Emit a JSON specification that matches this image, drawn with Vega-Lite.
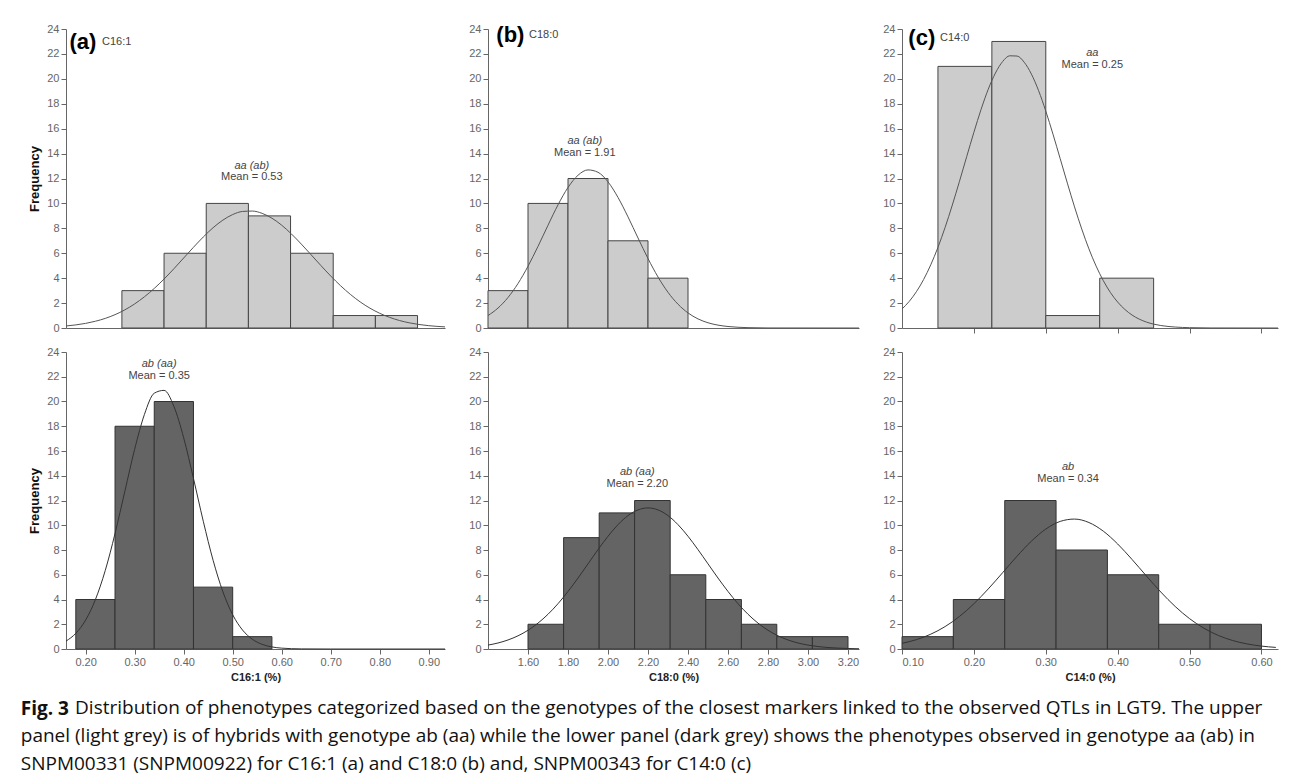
{
  "$schema": "https://vega.github.io/schema/vega-lite/v6.json",
  "padding": {"left": 20, "top": 23, "right": 5, "bottom": 2},
  "background": "white",
  "title": {
    "text": "Fig. 3",
    "subtitle": [
      "\u200b\u00a0\u00a0\u00a0\u00a0\u00a0\u00a0\u00a0\u00a0\u00a0\u00a0\u00a0Distribution of phenotypes categorized based on the genotypes of the closest markers linked to the observed QTLs in LGT9. The upper",
      "panel (light grey) is of hybrids with genotype ab (aa) while the lower panel (dark grey) shows the phenotypes observed in genotype aa (ab) in",
      "SNPM00331 (SNPM00922) for C16:1 (a) and C18:0 (b) and, SNPM00343 for C14:0 (c)"
    ],
    "orient": "bottom",
    "anchor": "start",
    "font": "Open Sans",
    "fontSize": 19,
    "fontWeight": "bold",
    "color": "#111",
    "subtitleFont": "Open Sans",
    "subtitleFontSize": 19,
    "subtitleFontWeight": "normal",
    "subtitleColor": "#111",
    "subtitleLineHeight": 28,
    "subtitlePadding": -20,
    "offset": 18,
    "dx": -8
  },
  "datasets": {
    "ta_bars": [
      {"lo": 0.274, "hi": 0.360, "n": 3}, {"lo": 0.360, "hi": 0.446, "n": 6}, {"lo": 0.446, "hi": 0.532, "n": 10},
      {"lo": 0.532, "hi": 0.618, "n": 9}, {"lo": 0.618, "hi": 0.705, "n": 6}, {"lo": 0.705, "hi": 0.791, "n": 1},
      {"lo": 0.791, "hi": 0.877, "n": 1}
    ],
    "ta_curve": [
      {"x": 0.16, "f": 0.163}, {"x": 0.18, "f": 0.249}, {"x": 0.20, "f": 0.371}, {"x": 0.22, "f": 0.542},
      {"x": 0.24, "f": 0.770}, {"x": 0.26, "f": 1.071}, {"x": 0.28, "f": 1.456}, {"x": 0.30, "f": 1.933},
      {"x": 0.32, "f": 2.506}, {"x": 0.34, "f": 3.176}, {"x": 0.36, "f": 3.930}, {"x": 0.38, "f": 4.753},
      {"x": 0.40, "f": 5.617}, {"x": 0.42, "f": 6.480}, {"x": 0.44, "f": 7.306}, {"x": 0.46, "f": 8.050},
      {"x": 0.48, "f": 8.661}, {"x": 0.50, "f": 9.107}, {"x": 0.52, "f": 9.354}, {"x": 0.54, "f": 9.387},
      {"x": 0.56, "f": 9.203}, {"x": 0.58, "f": 8.814}, {"x": 0.60, "f": 8.249}, {"x": 0.62, "f": 7.540},
      {"x": 0.64, "f": 6.733}, {"x": 0.66, "f": 5.875}, {"x": 0.68, "f": 5.009}, {"x": 0.70, "f": 4.171},
      {"x": 0.72, "f": 3.393}, {"x": 0.74, "f": 2.698}, {"x": 0.76, "f": 2.095}, {"x": 0.78, "f": 1.590},
      {"x": 0.80, "f": 1.178}, {"x": 0.82, "f": 0.853}, {"x": 0.84, "f": 0.603}, {"x": 0.86, "f": 0.417},
      {"x": 0.88, "f": 0.281}, {"x": 0.90, "f": 0.186}, {"x": 0.933, "f": 0.09}
    ],
    "ba_bars": [
      {"lo": 0.18, "hi": 0.26, "n": 4}, {"lo": 0.26, "hi": 0.34, "n": 18}, {"lo": 0.34, "hi": 0.42, "n": 20},
      {"lo": 0.42, "hi": 0.50, "n": 5}, {"lo": 0.50, "hi": 0.58, "n": 1}
    ],
    "ba_curve": [
      {"x": 0.16, "f": 0.637}, {"x": 0.18, "f": 1.266}, {"x": 0.20, "f": 2.335}, {"x": 0.22, "f": 3.993},
      {"x": 0.24, "f": 6.338}, {"x": 0.26, "f": 9.328}, {"x": 0.28, "f": 12.74}, {"x": 0.30, "f": 16.14},
      {"x": 0.32, "f": 18.96}, {"x": 0.34, "f": 20.67}, {"x": 0.36, "f": 20.90}, {"x": 0.38, "f": 19.61},
      {"x": 0.40, "f": 17.07}, {"x": 0.42, "f": 13.78}, {"x": 0.44, "f": 10.32}, {"x": 0.46, "f": 7.172},
      {"x": 0.48, "f": 4.624}, {"x": 0.50, "f": 2.766}, {"x": 0.52, "f": 1.534}, {"x": 0.54, "f": 0.790},
      {"x": 0.56, "f": 0.376}, {"x": 0.58, "f": 0.167}, {"x": 0.60, "f": 0.069}, {"x": 0.64, "f": 0.009},
      {"x": 0.70, "f": 0.0}, {"x": 0.933, "f": 0.0}
    ],
    "tb_bars": [
      {"lo": 1.40, "hi": 1.60, "n": 3}, {"lo": 1.60, "hi": 1.80, "n": 10}, {"lo": 1.80, "hi": 2.00, "n": 12},
      {"lo": 2.00, "hi": 2.20, "n": 7}, {"lo": 2.20, "hi": 2.40, "n": 4}
    ],
    "tb_curve": [
      {"x": 1.40, "f": 0.996}, {"x": 1.45, "f": 1.601}, {"x": 1.50, "f": 2.449}, {"x": 1.55, "f": 3.570},
      {"x": 1.60, "f": 4.957}, {"x": 1.65, "f": 6.553}, {"x": 1.70, "f": 8.247}, {"x": 1.75, "f": 9.884},
      {"x": 1.80, "f": 11.28}, {"x": 1.85, "f": 12.26}, {"x": 1.90, "f": 12.69}, {"x": 1.95, "f": 12.50},
      {"x": 2.00, "f": 11.73}, {"x": 2.05, "f": 10.48}, {"x": 2.10, "f": 8.919}, {"x": 2.15, "f": 7.226},
      {"x": 2.20, "f": 5.575}, {"x": 2.25, "f": 4.096}, {"x": 2.30, "f": 2.865}, {"x": 2.35, "f": 1.909},
      {"x": 2.40, "f": 1.211}, {"x": 2.45, "f": 0.731}, {"x": 2.50, "f": 0.420}, {"x": 2.55, "f": 0.230},
      {"x": 2.60, "f": 0.120}, {"x": 2.65, "f": 0.060}, {"x": 2.70, "f": 0.028}, {"x": 2.80, "f": 0.004},
      {"x": 3.255, "f": 0.0}
    ],
    "bb_bars": [
      {"lo": 1.600, "hi": 1.778, "n": 2}, {"lo": 1.778, "hi": 1.956, "n": 9}, {"lo": 1.956, "hi": 2.133, "n": 11},
      {"lo": 2.133, "hi": 2.311, "n": 12}, {"lo": 2.311, "hi": 2.489, "n": 6}, {"lo": 2.489, "hi": 2.667, "n": 4},
      {"lo": 2.667, "hi": 2.844, "n": 2}, {"lo": 2.844, "hi": 3.022, "n": 1}, {"lo": 3.022, "hi": 3.200, "n": 1}
    ],
    "bb_curve": [
      {"x": 1.40, "f": 0.315}, {"x": 1.45, "f": 0.486}, {"x": 1.50, "f": 0.730}, {"x": 1.55, "f": 1.066},
      {"x": 1.60, "f": 1.514}, {"x": 1.65, "f": 2.091}, {"x": 1.70, "f": 2.807}, {"x": 1.75, "f": 3.662},
      {"x": 1.80, "f": 4.648}, {"x": 1.85, "f": 5.734}, {"x": 1.90, "f": 6.881}, {"x": 1.95, "f": 8.030},
      {"x": 2.00, "f": 9.110}, {"x": 2.05, "f": 10.05}, {"x": 2.10, "f": 10.78}, {"x": 2.15, "f": 11.24},
      {"x": 2.20, "f": 11.40}, {"x": 2.25, "f": 11.24}, {"x": 2.30, "f": 10.78}, {"x": 2.35, "f": 10.05},
      {"x": 2.40, "f": 9.110}, {"x": 2.45, "f": 8.030}, {"x": 2.50, "f": 6.881}, {"x": 2.55, "f": 5.734},
      {"x": 2.60, "f": 4.648}, {"x": 2.65, "f": 3.662}, {"x": 2.70, "f": 2.807}, {"x": 2.75, "f": 2.091},
      {"x": 2.80, "f": 1.514}, {"x": 2.85, "f": 1.066}, {"x": 2.90, "f": 0.730}, {"x": 2.95, "f": 0.486},
      {"x": 3.00, "f": 0.315}, {"x": 3.05, "f": 0.198}, {"x": 3.10, "f": 0.121}, {"x": 3.15, "f": 0.072},
      {"x": 3.20, "f": 0.042}, {"x": 3.255, "f": 0.021}
    ],
    "tc_bars": [
      {"lo": 0.150, "hi": 0.225, "n": 21}, {"lo": 0.225, "hi": 0.300, "n": 23},
      {"lo": 0.300, "hi": 0.375, "n": 1}, {"lo": 0.375, "hi": 0.450, "n": 4}
    ],
    "tc_curve": [
      {"x": 0.10, "f": 1.529}, {"x": 0.11, "f": 2.133}, {"x": 0.12, "f": 2.911}, {"x": 0.13, "f": 3.885},
      {"x": 0.14, "f": 5.072}, {"x": 0.15, "f": 6.471}, {"x": 0.16, "f": 8.081}, {"x": 0.17, "f": 9.87},
      {"x": 0.18, "f": 11.78}, {"x": 0.19, "f": 13.76}, {"x": 0.20, "f": 15.71}, {"x": 0.21, "f": 17.55},
      {"x": 0.22, "f": 19.17}, {"x": 0.23, "f": 20.47}, {"x": 0.24, "f": 21.39}, {"x": 0.25, "f": 21.85},
      {"x": 0.26, "f": 21.83}, {"x": 0.27, "f": 21.33}, {"x": 0.28, "f": 20.38}, {"x": 0.29, "f": 19.05},
      {"x": 0.30, "f": 17.41}, {"x": 0.31, "f": 15.56}, {"x": 0.32, "f": 13.60}, {"x": 0.33, "f": 11.63},
      {"x": 0.34, "f": 9.72}, {"x": 0.35, "f": 7.95}, {"x": 0.36, "f": 6.35}, {"x": 0.37, "f": 4.97},
      {"x": 0.38, "f": 3.80}, {"x": 0.39, "f": 2.84}, {"x": 0.40, "f": 2.08}, {"x": 0.41, "f": 1.49},
      {"x": 0.42, "f": 1.04}, {"x": 0.43, "f": 0.712}, {"x": 0.44, "f": 0.476}, {"x": 0.45, "f": 0.311},
      {"x": 0.46, "f": 0.199}, {"x": 0.48, "f": 0.076}, {"x": 0.50, "f": 0.027}, {"x": 0.53, "f": 0.005},
      {"x": 0.623, "f": 0.0}
    ],
    "bc_bars": [
      {"lo": 0.1000, "hi": 0.1714, "n": 1}, {"lo": 0.1714, "hi": 0.2429, "n": 4}, {"lo": 0.2429, "hi": 0.3143, "n": 12},
      {"lo": 0.3143, "hi": 0.3857, "n": 8}, {"lo": 0.3857, "hi": 0.4571, "n": 6}, {"lo": 0.4571, "hi": 0.5286, "n": 2},
      {"lo": 0.5286, "hi": 0.6000, "n": 2}
    ],
    "bc_curve": [
      {"x": 0.10, "f": 0.456}, {"x": 0.12, "f": 0.755}, {"x": 0.14, "f": 1.196}, {"x": 0.16, "f": 1.814},
      {"x": 0.18, "f": 2.633}, {"x": 0.20, "f": 3.656}, {"x": 0.22, "f": 4.855}, {"x": 0.24, "f": 6.168},
      {"x": 0.26, "f": 7.495}, {"x": 0.28, "f": 8.715}, {"x": 0.30, "f": 9.692}, {"x": 0.32, "f": 10.31},
      {"x": 0.34, "f": 10.50}, {"x": 0.36, "f": 10.22}, {"x": 0.38, "f": 9.522}, {"x": 0.40, "f": 8.486},
      {"x": 0.42, "f": 7.234}, {"x": 0.44, "f": 5.900}, {"x": 0.46, "f": 4.603}, {"x": 0.48, "f": 3.436},
      {"x": 0.50, "f": 2.453}, {"x": 0.52, "f": 1.676}, {"x": 0.54, "f": 1.095}, {"x": 0.56, "f": 0.685},
      {"x": 0.58, "f": 0.410}, {"x": 0.60, "f": 0.234}, {"x": 0.62, "f": 0.128}
    ]
  },
  "spacing": 12,
  "vconcat": [
    {
      "spacing": 21,
      "hconcat": [
        {
          "width": 379, "height": 299,
          "encoding": {
            "x": {"type": "quantitative", "scale": {"domain": [0.16, 0.933], "nice": false, "zero": false}, "axis": {"labels": false, "ticks": false, "title": null}},
            "y": {"type": "quantitative", "scale": {"domain": [0, 24], "nice": false}, "axis": {"values": [0, 2, 4, 6, 8, 10, 12, 14, 16, 18, 20, 22, 24], "labelOverlap": false, "title": "Frequency", "titleFontSize": 13, "titleColor": "#111", "titlePadding": 5}}
          },
          "layer": [
            {
              "data": {"name": "ta_bars"},
              "mark": {"type": "rect", "fill": "#cccccc", "stroke": "#454545", "strokeWidth": 1},
              "encoding": {"x": {"field": "lo"}, "x2": {"field": "hi"}, "y": {"field": "n"}, "y2": {"datum": 0}}
            },
            {
              "data": {"name": "ta_curve"},
              "mark": {"type": "line", "color": "#555555", "strokeWidth": 1, "interpolate": "monotone"},
              "encoding": {"x": {"field": "x"}, "y": {"field": "f"}}
            },
            {
              "data": {"values": [{"t": "(a)"}]},
              "mark": {"type": "text", "fontSize": 22, "fontWeight": "bold", "align": "left", "baseline": "middle", "color": "#000"},
              "encoding": {"x": {"datum": 0.167}, "y": {"datum": 22.95}, "text": {"field": "t"}}
            },
            {
              "data": {"values": [{"t": "C16:1"}]},
              "mark": {"type": "text", "fontSize": 11, "align": "left", "baseline": "middle", "color": "#444"},
              "encoding": {"x": {"datum": 0.2334}, "y": {"datum": 22.95}, "text": {"field": "t"}}
            },
            {
              "data": {"values": [{"t": "aa (ab)"}]},
              "mark": {"type": "text", "fontSize": 11, "fontStyle": "italic", "align": "center", "baseline": "middle", "color": "#444"},
              "encoding": {"x": {"datum": 0.539}, "y": {"datum": 13.03}, "text": {"field": "t"}}
            },
            {
              "data": {"values": [{"t": "Mean = 0.53"}]},
              "mark": {"type": "text", "fontSize": 11, "align": "center", "baseline": "middle", "color": "#444"},
              "encoding": {"x": {"datum": 0.539}, "y": {"datum": 12.1}, "text": {"field": "t"}}
            }
          ]
        },
        {
          "width": 371, "height": 299,
          "encoding": {
            "x": {"type": "quantitative", "scale": {"domain": [1.40, 3.255], "nice": false, "zero": false}, "axis": {"labels": false, "ticks": false, "title": null}},
            "y": {"type": "quantitative", "scale": {"domain": [0, 24], "nice": false}, "axis": {"values": [0, 2, 4, 6, 8, 10, 12, 14, 16, 18, 20, 22, 24], "labelOverlap": false, "title": null}}
          },
          "layer": [
            {
              "data": {"name": "tb_bars"},
              "mark": {"type": "rect", "fill": "#cccccc", "stroke": "#454545", "strokeWidth": 1},
              "encoding": {"x": {"field": "lo"}, "x2": {"field": "hi"}, "y": {"field": "n"}, "y2": {"datum": 0}}
            },
            {
              "data": {"name": "tb_curve"},
              "mark": {"type": "line", "color": "#555555", "strokeWidth": 1, "interpolate": "monotone"},
              "encoding": {"x": {"field": "x"}, "y": {"field": "f"}}
            },
            {
              "data": {"values": [{"t": "(b)"}]},
              "mark": {"type": "text", "fontSize": 22, "fontWeight": "bold", "align": "left", "baseline": "middle", "color": "#000"},
              "encoding": {"x": {"datum": 1.4415}, "y": {"datum": 23.5}, "text": {"field": "t"}}
            },
            {
              "data": {"values": [{"t": "C18:0"}]},
              "mark": {"type": "text", "fontSize": 11, "align": "left", "baseline": "middle", "color": "#444"},
              "encoding": {"x": {"datum": 1.605}, "y": {"datum": 23.5}, "text": {"field": "t"}}
            },
            {
              "data": {"values": [{"t": "aa (ab)"}]},
              "mark": {"type": "text", "fontSize": 11, "fontStyle": "italic", "align": "center", "baseline": "middle", "color": "#444"},
              "encoding": {"x": {"datum": 1.884}, "y": {"datum": 15.02}, "text": {"field": "t"}}
            },
            {
              "data": {"values": [{"t": "Mean = 1.91"}]},
              "mark": {"type": "text", "fontSize": 11, "align": "center", "baseline": "middle", "color": "#444"},
              "encoding": {"x": {"datum": 1.884}, "y": {"datum": 14.07}, "text": {"field": "t"}}
            }
          ]
        },
        {
          "width": 376, "height": 299,
          "encoding": {
            "x": {"type": "quantitative", "scale": {"domain": [0.10, 0.623], "nice": false, "zero": false}, "axis": {"labels": false, "ticks": true, "values": [0.2, 0.3, 0.4, 0.5, 0.6], "title": null}},
            "y": {"type": "quantitative", "scale": {"domain": [0, 24], "nice": false}, "axis": {"values": [0, 2, 4, 6, 8, 10, 12, 14, 16, 18, 20, 22, 24], "labelOverlap": false, "title": null}}
          },
          "layer": [
            {
              "data": {"name": "tc_bars"},
              "mark": {"type": "rect", "fill": "#cccccc", "stroke": "#454545", "strokeWidth": 1},
              "encoding": {"x": {"field": "lo"}, "x2": {"field": "hi"}, "y": {"field": "n"}, "y2": {"datum": 0}}
            },
            {
              "data": {"name": "tc_curve"},
              "mark": {"type": "line", "color": "#555555", "strokeWidth": 1, "interpolate": "monotone"},
              "encoding": {"x": {"field": "x"}, "y": {"field": "f"}}
            },
            {
              "data": {"values": [{"t": "(c)"}]},
              "mark": {"type": "text", "fontSize": 22, "fontWeight": "bold", "align": "left", "baseline": "middle", "color": "#000"},
              "encoding": {"x": {"datum": 0.1088}, "y": {"datum": 23.3}, "text": {"field": "t"}}
            },
            {
              "data": {"values": [{"t": "C14:0"}]},
              "mark": {"type": "text", "fontSize": 11, "align": "left", "baseline": "middle", "color": "#444"},
              "encoding": {"x": {"datum": 0.1529}, "y": {"datum": 23.3}, "text": {"field": "t"}}
            },
            {
              "data": {"values": [{"t": "aa"}]},
              "mark": {"type": "text", "fontSize": 11, "fontStyle": "italic", "align": "center", "baseline": "middle", "color": "#444"},
              "encoding": {"x": {"datum": 0.3647}, "y": {"datum": 22.04}, "text": {"field": "t"}}
            },
            {
              "data": {"values": [{"t": "Mean = 0.25"}]},
              "mark": {"type": "text", "fontSize": 11, "align": "center", "baseline": "middle", "color": "#444"},
              "encoding": {"x": {"datum": 0.3647}, "y": {"datum": 21.09}, "text": {"field": "t"}}
            }
          ]
        }
      ]
    },
    {
      "spacing": 21,
      "hconcat": [
        {
          "width": 379, "height": 297,
          "encoding": {
            "x": {"type": "quantitative", "scale": {"domain": [0.16, 0.933], "nice": false, "zero": false}, "axis": {"values": [0.2, 0.3, 0.4, 0.5, 0.6, 0.7, 0.8, 0.9], "format": ".2f", "title": "C16:1 (%)"}},
            "y": {"type": "quantitative", "scale": {"domain": [0, 24], "nice": false}, "axis": {"values": [0, 2, 4, 6, 8, 10, 12, 14, 16, 18, 20, 22, 24], "labelOverlap": false, "title": "Frequency", "titleFontSize": 13, "titleColor": "#111", "titlePadding": 5}}
          },
          "layer": [
            {
              "data": {"name": "ba_bars"},
              "mark": {"type": "rect", "fill": "#646464", "stroke": "#333333", "strokeWidth": 1},
              "encoding": {"x": {"field": "lo"}, "x2": {"field": "hi"}, "y": {"field": "n"}, "y2": {"datum": 0}}
            },
            {
              "data": {"name": "ba_curve"},
              "mark": {"type": "line", "color": "#333333", "strokeWidth": 1, "interpolate": "monotone"},
              "encoding": {"x": {"field": "x"}, "y": {"field": "f"}}
            },
            {
              "data": {"values": [{"t": "ab (aa)"}]},
              "mark": {"type": "text", "fontSize": 11, "fontStyle": "italic", "align": "center", "baseline": "middle", "color": "#444"},
              "encoding": {"x": {"datum": 0.350}, "y": {"datum": 23.07}, "text": {"field": "t"}}
            },
            {
              "data": {"values": [{"t": "Mean = 0.35"}]},
              "mark": {"type": "text", "fontSize": 11, "align": "center", "baseline": "middle", "color": "#444"},
              "encoding": {"x": {"datum": 0.350}, "y": {"datum": 22.1}, "text": {"field": "t"}}
            }
          ]
        },
        {
          "width": 371, "height": 297,
          "encoding": {
            "x": {"type": "quantitative", "scale": {"domain": [1.40, 3.255], "nice": false, "zero": false}, "axis": {"values": [1.6, 1.8, 2.0, 2.2, 2.4, 2.6, 2.8, 3.0, 3.2], "format": ".2f", "title": "C18:0 (%)"}},
            "y": {"type": "quantitative", "scale": {"domain": [0, 24], "nice": false}, "axis": {"values": [0, 2, 4, 6, 8, 10, 12, 14, 16, 18, 20, 22, 24], "labelOverlap": false, "title": null}}
          },
          "layer": [
            {
              "data": {"name": "bb_bars"},
              "mark": {"type": "rect", "fill": "#646464", "stroke": "#333333", "strokeWidth": 1},
              "encoding": {"x": {"field": "lo"}, "x2": {"field": "hi"}, "y": {"field": "n"}, "y2": {"datum": 0}}
            },
            {
              "data": {"name": "bb_curve"},
              "mark": {"type": "line", "color": "#333333", "strokeWidth": 1, "interpolate": "monotone"},
              "encoding": {"x": {"field": "x"}, "y": {"field": "f"}}
            },
            {
              "data": {"values": [{"t": "ab (aa)"}]},
              "mark": {"type": "text", "fontSize": 11, "fontStyle": "italic", "align": "center", "baseline": "middle", "color": "#444"},
              "encoding": {"x": {"datum": 2.1465}, "y": {"datum": 14.29}, "text": {"field": "t"}}
            },
            {
              "data": {"values": [{"t": "Mean = 2.20"}]},
              "mark": {"type": "text", "fontSize": 11, "align": "center", "baseline": "middle", "color": "#444"},
              "encoding": {"x": {"datum": 2.1465}, "y": {"datum": 13.34}, "text": {"field": "t"}}
            }
          ]
        },
        {
          "width": 376, "height": 297,
          "encoding": {
            "x": {"type": "quantitative", "scale": {"domain": [0.10, 0.623], "nice": false, "zero": false}, "axis": {"values": [0.1, 0.2, 0.3, 0.4, 0.5, 0.6], "format": ".2f", "title": "C14:0 (%)"}},
            "y": {"type": "quantitative", "scale": {"domain": [0, 24], "nice": false}, "axis": {"values": [0, 2, 4, 6, 8, 10, 12, 14, 16, 18, 20, 22, 24], "labelOverlap": false, "title": null}}
          },
          "layer": [
            {
              "data": {"name": "bc_bars"},
              "mark": {"type": "rect", "fill": "#646464", "stroke": "#333333", "strokeWidth": 1},
              "encoding": {"x": {"field": "lo"}, "x2": {"field": "hi"}, "y": {"field": "n"}, "y2": {"datum": 0}}
            },
            {
              "data": {"name": "bc_curve"},
              "mark": {"type": "line", "color": "#333333", "strokeWidth": 1, "interpolate": "monotone"},
              "encoding": {"x": {"field": "x"}, "y": {"field": "f"}}
            },
            {
              "data": {"values": [{"t": "ab"}]},
              "mark": {"type": "text", "fontSize": 11, "fontStyle": "italic", "align": "center", "baseline": "middle", "color": "#444"},
              "encoding": {"x": {"datum": 0.331}, "y": {"datum": 14.67}, "text": {"field": "t"}}
            },
            {
              "data": {"values": [{"t": "Mean = 0.34"}]},
              "mark": {"type": "text", "fontSize": 11, "align": "center", "baseline": "middle", "color": "#444"},
              "encoding": {"x": {"datum": 0.331}, "y": {"datum": 13.70}, "text": {"field": "t"}}
            }
          ]
        }
      ]
    }
  ],
  "config": {
    "view": {"stroke": null},
    "font": "Liberation Sans",
    "axis": {
      "grid": false,
      "domainColor": "#666666",
      "tickColor": "#666666",
      "labelColor": "#666666",
      "labelFont": "Liberation Sans",
      "labelFontSize": 11,
      "labelOverlap": false,
      "tickSize": 5,
      "labelPadding": 2,
      "titleFont": "Liberation Sans",
      "titleFontSize": 11,
      "titleFontWeight": "bold",
      "titleColor": "#222222",
      "titlePadding": 4
    },
    "text": {"font": "Liberation Sans"}
  }
}
